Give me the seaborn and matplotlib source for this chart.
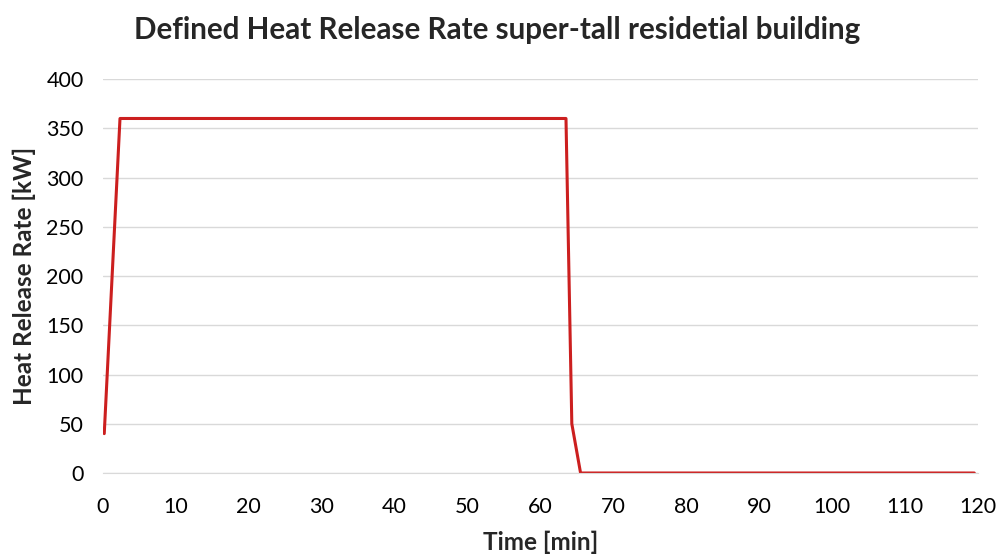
import numpy as np
import pandas as pd
import matplotlib
matplotlib.use("Agg")
import matplotlib.pyplot as plt
import seaborn as sns

# heat release curve
time_min = [0.17, 2.33, 63.5, 64.3, 65.5, 119.5]
hrr_kw = [40, 360, 360, 50, 0, 0]

df = pd.DataFrame({"Time [min]": time_min, "Heat Release Rate [kW]": hrr_kw})

sns.set_style("white")
plt.rcParams['font.family'] = ['Lato', 'DejaVu Sans']

fig = plt.figure(figsize=(10.03, 5.57), dpi=100)
ax = fig.add_axes([0.1027, 0.1508, 0.8723, 0.7072])

sns.lineplot(data=df, x="Time [min]", y="Heat Release Rate [kW]", ax=ax,
             color="#CC1F1F", linewidth=2.2, sort=False)

ax.set_xlim(0, 120)
ax.set_ylim(0, 400)
ax.set_xticks(np.arange(0, 121, 10))
ax.set_yticks(np.arange(0, 401, 50))
ax.grid(axis="y", color="#D9D9D9", linewidth=1)
ax.set_axisbelow(True)
for s in ["top", "right", "left"]:
    ax.spines[s].set_visible(False)
ax.spines["bottom"].set_color("#D9D9D9")
ax.tick_params(axis="x", length=5, color="#D9D9D9", labelsize=15.5, pad=12,
               labelcolor="black")
ax.tick_params(axis="y", length=0, labelsize=15.5, pad=14, labelcolor="black")
ax.set_xlabel("Time [min]", fontsize=17.5, fontweight="bold", labelpad=10)
ax.set_ylabel("Heat Release Rate [kW]", fontsize=17.5, fontweight="bold", labelpad=7)
fig.suptitle("Defined Heat Release Rate super-tall residetial building",
             fontsize=21.3, fontweight="bold", x=0.496, y=0.946, va="center")

fig.savefig("out.png", dpi=100)
